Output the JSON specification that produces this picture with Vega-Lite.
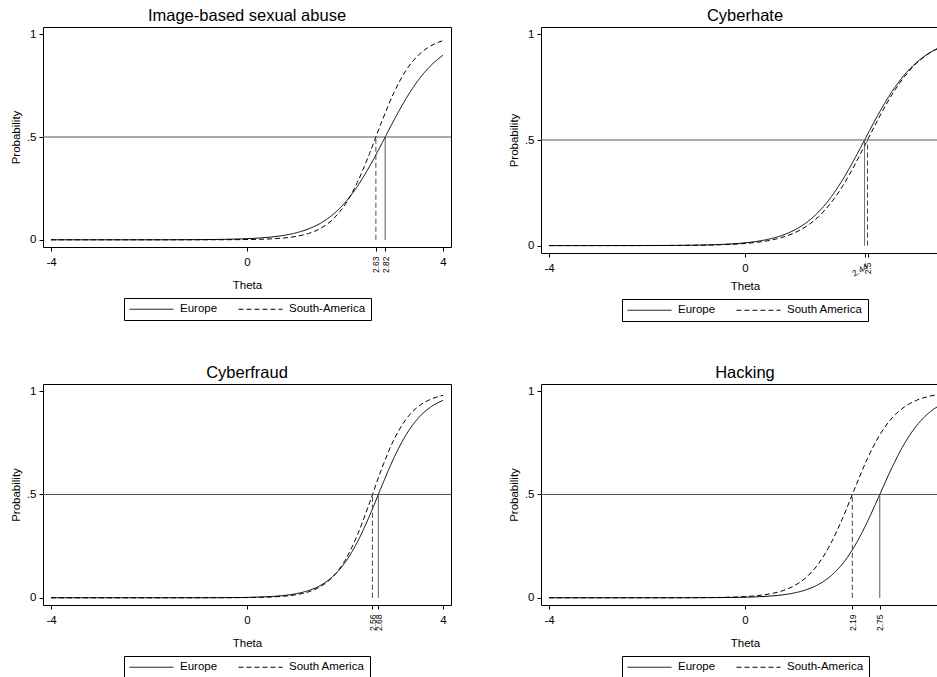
{
  "$schema": "https://vega.github.io/schema/vega-lite/v6.json",
  "background": "white",
  "padding": {"left": 9, "top": 7, "right": 0, "bottom": 0},
  "config": {
    "font": "Liberation Sans",
    "view": {"stroke": "black", "strokeWidth": 1},
    "axis": {"domain": false, "grid": false, "tickColor": "black", "tickSize": 4, "labelColor": "black", "titleColor": "black", "labelFontSize": 11.5, "titleFontSize": 11.5, "titleFontWeight": "normal", "labelPadding": 3, "labelFlush": false},
    "title": {"fontSize": 16.5, "fontWeight": "normal", "color": "black", "offset": 3},
    "legend": {"orient": "bottom", "direction": "horizontal", "strokeColor": "black", "padding": 5, "labelFontSize": 11.5, "labelColor": "black", "symbolType": "M-1,0L7,0", "symbolSize": 121, "symbolStrokeWidth": 1, "symbolStrokeColor": "black", "labelOffset": 39, "columnPadding": 18, "offset": 6, "layout": {"bottom": {"anchor": "middle"}}}
  },
  "datasets": {
    "half": [{"prob": 0.5}],
    "cuts": [
      {"panel": "Image-based sexual abuse", "region": "Europe", "b": 2.82},
      {"panel": "Image-based sexual abuse", "region": "South-America", "b": 2.63},
      {"panel": "Cyberhate", "region": "Europe", "b": 2.44},
      {"panel": "Cyberhate", "region": "South America", "b": 2.5},
      {"panel": "Cyberfraud", "region": "Europe", "b": 2.68},
      {"panel": "Cyberfraud", "region": "South America", "b": 2.56},
      {"panel": "Hacking", "region": "Europe", "b": 2.75},
      {"panel": "Hacking", "region": "South-America", "b": 2.19}
    ],
    "curves": [
      {"panel": "Image-based sexual abuse", "region": "Europe", "theta": -4, "prob": 0},
      {"panel": "Image-based sexual abuse", "region": "Europe", "theta": -3, "prob": 0},
      {"panel": "Image-based sexual abuse", "region": "Europe", "theta": -2, "prob": 0.0001},
      {"panel": "Image-based sexual abuse", "region": "Europe", "theta": -1, "prob": 0.0009},
      {"panel": "Image-based sexual abuse", "region": "Europe", "theta": -0.5, "prob": 0.0022},
      {"panel": "Image-based sexual abuse", "region": "Europe", "theta": 0, "prob": 0.0055},
      {"panel": "Image-based sexual abuse", "region": "Europe", "theta": 0.25, "prob": 0.0087},
      {"panel": "Image-based sexual abuse", "region": "Europe", "theta": 0.5, "prob": 0.0137},
      {"panel": "Image-based sexual abuse", "region": "Europe", "theta": 0.75, "prob": 0.0216},
      {"panel": "Image-based sexual abuse", "region": "Europe", "theta": 1, "prob": 0.0338},
      {"panel": "Image-based sexual abuse", "region": "Europe", "theta": 1.25, "prob": 0.0525},
      {"panel": "Image-based sexual abuse", "region": "Europe", "theta": 1.5, "prob": 0.0807},
      {"panel": "Image-based sexual abuse", "region": "Europe", "theta": 1.75, "prob": 0.1222},
      {"panel": "Image-based sexual abuse", "region": "Europe", "theta": 2, "prob": 0.1808},
      {"panel": "Image-based sexual abuse", "region": "Europe", "theta": 2.25, "prob": 0.2591},
      {"panel": "Image-based sexual abuse", "region": "Europe", "theta": 2.5, "prob": 0.3567},
      {"panel": "Image-based sexual abuse", "region": "Europe", "theta": 2.75, "prob": 0.4678},
      {"panel": "Image-based sexual abuse", "region": "Europe", "theta": 3, "prob": 0.5822},
      {"panel": "Image-based sexual abuse", "region": "Europe", "theta": 3.25, "prob": 0.6883},
      {"panel": "Image-based sexual abuse", "region": "Europe", "theta": 3.5, "prob": 0.7778},
      {"panel": "Image-based sexual abuse", "region": "Europe", "theta": 3.75, "prob": 0.8473},
      {"panel": "Image-based sexual abuse", "region": "Europe", "theta": 4, "prob": 0.898},
      {"panel": "Image-based sexual abuse", "region": "South-America", "theta": -4, "prob": 0},
      {"panel": "Image-based sexual abuse", "region": "South-America", "theta": -3, "prob": 0},
      {"panel": "Image-based sexual abuse", "region": "South-America", "theta": -2, "prob": 0},
      {"panel": "Image-based sexual abuse", "region": "South-America", "theta": -1, "prob": 0.0001},
      {"panel": "Image-based sexual abuse", "region": "South-America", "theta": -0.5, "prob": 0.0004},
      {"panel": "Image-based sexual abuse", "region": "South-America", "theta": 0, "prob": 0.0014},
      {"panel": "Image-based sexual abuse", "region": "South-America", "theta": 0.25, "prob": 0.0025},
      {"panel": "Image-based sexual abuse", "region": "South-America", "theta": 0.5, "prob": 0.0047},
      {"panel": "Image-based sexual abuse", "region": "South-America", "theta": 0.75, "prob": 0.0088},
      {"panel": "Image-based sexual abuse", "region": "South-America", "theta": 1, "prob": 0.0164},
      {"panel": "Image-based sexual abuse", "region": "South-America", "theta": 1.25, "prob": 0.0304},
      {"panel": "Image-based sexual abuse", "region": "South-America", "theta": 1.5, "prob": 0.0554},
      {"panel": "Image-based sexual abuse", "region": "South-America", "theta": 1.75, "prob": 0.0989},
      {"panel": "Image-based sexual abuse", "region": "South-America", "theta": 2, "prob": 0.1706},
      {"panel": "Image-based sexual abuse", "region": "South-America", "theta": 2.25, "prob": 0.2781},
      {"panel": "Image-based sexual abuse", "region": "South-America", "theta": 2.5, "prob": 0.4193},
      {"panel": "Image-based sexual abuse", "region": "South-America", "theta": 2.75, "prob": 0.5747},
      {"panel": "Image-based sexual abuse", "region": "South-America", "theta": 3, "prob": 0.7168},
      {"panel": "Image-based sexual abuse", "region": "South-America", "theta": 3.25, "prob": 0.8258},
      {"panel": "Image-based sexual abuse", "region": "South-America", "theta": 3.5, "prob": 0.8988},
      {"panel": "Image-based sexual abuse", "region": "South-America", "theta": 3.75, "prob": 0.9433},
      {"panel": "Image-based sexual abuse", "region": "South-America", "theta": 4, "prob": 0.9689},
      {"panel": "Cyberhate", "region": "Europe", "theta": -4, "prob": 0},
      {"panel": "Cyberhate", "region": "Europe", "theta": -3, "prob": 0.0001},
      {"panel": "Cyberhate", "region": "Europe", "theta": -2, "prob": 0.0004},
      {"panel": "Cyberhate", "region": "Europe", "theta": -1, "prob": 0.0023},
      {"panel": "Cyberhate", "region": "Europe", "theta": -0.5, "prob": 0.0055},
      {"panel": "Cyberhate", "region": "Europe", "theta": 0, "prob": 0.0131},
      {"panel": "Cyberhate", "region": "Europe", "theta": 0.25, "prob": 0.0203},
      {"panel": "Cyberhate", "region": "Europe", "theta": 0.5, "prob": 0.0313},
      {"panel": "Cyberhate", "region": "Europe", "theta": 0.75, "prob": 0.0478},
      {"panel": "Cyberhate", "region": "Europe", "theta": 1, "prob": 0.0725},
      {"panel": "Cyberhate", "region": "Europe", "theta": 1.25, "prob": 0.1085},
      {"panel": "Cyberhate", "region": "Europe", "theta": 1.5, "prob": 0.1592},
      {"panel": "Cyberhate", "region": "Europe", "theta": 1.75, "prob": 0.2277},
      {"panel": "Cyberhate", "region": "Europe", "theta": 2, "prob": 0.3146},
      {"panel": "Cyberhate", "region": "Europe", "theta": 2.25, "prob": 0.4167},
      {"panel": "Cyberhate", "region": "Europe", "theta": 2.5, "prob": 0.5265},
      {"panel": "Cyberhate", "region": "Europe", "theta": 2.75, "prob": 0.6339},
      {"panel": "Cyberhate", "region": "Europe", "theta": 3, "prob": 0.7293},
      {"panel": "Cyberhate", "region": "Europe", "theta": 3.25, "prob": 0.8075},
      {"panel": "Cyberhate", "region": "Europe", "theta": 3.5, "prob": 0.8671},
      {"panel": "Cyberhate", "region": "Europe", "theta": 3.75, "prob": 0.9104},
      {"panel": "Cyberhate", "region": "Europe", "theta": 4, "prob": 0.9406},
      {"panel": "Cyberhate", "region": "South America", "theta": -4, "prob": 0},
      {"panel": "Cyberhate", "region": "South America", "theta": -3, "prob": 0},
      {"panel": "Cyberhate", "region": "South America", "theta": -2, "prob": 0.0003},
      {"panel": "Cyberhate", "region": "South America", "theta": -1, "prob": 0.0016},
      {"panel": "Cyberhate", "region": "South America", "theta": -0.5, "prob": 0.004},
      {"panel": "Cyberhate", "region": "South America", "theta": 0, "prob": 0.01},
      {"panel": "Cyberhate", "region": "South America", "theta": 0.25, "prob": 0.0157},
      {"panel": "Cyberhate", "region": "South America", "theta": 0.5, "prob": 0.0246},
      {"panel": "Cyberhate", "region": "South America", "theta": 0.75, "prob": 0.0384},
      {"panel": "Cyberhate", "region": "South America", "theta": 1, "prob": 0.0595},
      {"panel": "Cyberhate", "region": "South America", "theta": 1.25, "prob": 0.0911},
      {"panel": "Cyberhate", "region": "South America", "theta": 1.5, "prob": 0.137},
      {"panel": "Cyberhate", "region": "South America", "theta": 1.75, "prob": 0.201},
      {"panel": "Cyberhate", "region": "South America", "theta": 2, "prob": 0.285},
      {"panel": "Cyberhate", "region": "South America", "theta": 2.25, "prob": 0.387},
      {"panel": "Cyberhate", "region": "South America", "theta": 2.5, "prob": 0.5},
      {"panel": "Cyberhate", "region": "South America", "theta": 2.75, "prob": 0.613},
      {"panel": "Cyberhate", "region": "South America", "theta": 3, "prob": 0.715},
      {"panel": "Cyberhate", "region": "South America", "theta": 3.25, "prob": 0.799},
      {"panel": "Cyberhate", "region": "South America", "theta": 3.5, "prob": 0.863},
      {"panel": "Cyberhate", "region": "South America", "theta": 3.75, "prob": 0.9089},
      {"panel": "Cyberhate", "region": "South America", "theta": 4, "prob": 0.9405},
      {"panel": "Cyberfraud", "region": "Europe", "theta": -4, "prob": 0},
      {"panel": "Cyberfraud", "region": "Europe", "theta": -3, "prob": 0},
      {"panel": "Cyberfraud", "region": "Europe", "theta": -2, "prob": 0},
      {"panel": "Cyberfraud", "region": "Europe", "theta": -1, "prob": 0.0002},
      {"panel": "Cyberfraud", "region": "Europe", "theta": -0.5, "prob": 0.0006},
      {"panel": "Cyberfraud", "region": "Europe", "theta": 0, "prob": 0.0019},
      {"panel": "Cyberfraud", "region": "Europe", "theta": 0.25, "prob": 0.0035},
      {"panel": "Cyberfraud", "region": "Europe", "theta": 0.5, "prob": 0.0062},
      {"panel": "Cyberfraud", "region": "Europe", "theta": 0.75, "prob": 0.011},
      {"panel": "Cyberfraud", "region": "Europe", "theta": 1, "prob": 0.0196},
      {"panel": "Cyberfraud", "region": "Europe", "theta": 1.25, "prob": 0.0345},
      {"panel": "Cyberfraud", "region": "Europe", "theta": 1.5, "prob": 0.0601},
      {"panel": "Cyberfraud", "region": "Europe", "theta": 1.75, "prob": 0.1028},
      {"panel": "Cyberfraud", "region": "Europe", "theta": 2, "prob": 0.1702},
      {"panel": "Cyberfraud", "region": "Europe", "theta": 2.25, "prob": 0.2686},
      {"panel": "Cyberfraud", "region": "Europe", "theta": 2.5, "prob": 0.3967},
      {"panel": "Cyberfraud", "region": "Europe", "theta": 2.75, "prob": 0.5407},
      {"panel": "Cyberfraud", "region": "Europe", "theta": 3, "prob": 0.6783},
      {"panel": "Cyberfraud", "region": "Europe", "theta": 3.25, "prob": 0.7905},
      {"panel": "Cyberfraud", "region": "Europe", "theta": 3.5, "prob": 0.8712},
      {"panel": "Cyberfraud", "region": "Europe", "theta": 3.75, "prob": 0.9237},
      {"panel": "Cyberfraud", "region": "Europe", "theta": 4, "prob": 0.9559},
      {"panel": "Cyberfraud", "region": "South America", "theta": -4, "prob": 0},
      {"panel": "Cyberfraud", "region": "South America", "theta": -3, "prob": 0},
      {"panel": "Cyberfraud", "region": "South America", "theta": -2, "prob": 0},
      {"panel": "Cyberfraud", "region": "South America", "theta": -1, "prob": 0.0001},
      {"panel": "Cyberfraud", "region": "South America", "theta": -0.5, "prob": 0.0003},
      {"panel": "Cyberfraud", "region": "South America", "theta": 0, "prob": 0.001},
      {"panel": "Cyberfraud", "region": "South America", "theta": 0.25, "prob": 0.002},
      {"panel": "Cyberfraud", "region": "South America", "theta": 0.5, "prob": 0.0038},
      {"panel": "Cyberfraud", "region": "South America", "theta": 0.75, "prob": 0.0075},
      {"panel": "Cyberfraud", "region": "South America", "theta": 1, "prob": 0.0146},
      {"panel": "Cyberfraud", "region": "South America", "theta": 1.25, "prob": 0.0283},
      {"panel": "Cyberfraud", "region": "South America", "theta": 1.5, "prob": 0.0541},
      {"panel": "Cyberfraud", "region": "South America", "theta": 1.75, "prob": 0.1009},
      {"panel": "Cyberfraud", "region": "South America", "theta": 2, "prob": 0.1806},
      {"panel": "Cyberfraud", "region": "South America", "theta": 2.25, "prob": 0.3022},
      {"panel": "Cyberfraud", "region": "South America", "theta": 2.5, "prob": 0.4596},
      {"panel": "Cyberfraud", "region": "South America", "theta": 2.75, "prob": 0.6255},
      {"panel": "Cyberfraud", "region": "South America", "theta": 3, "prob": 0.7664},
      {"panel": "Cyberfraud", "region": "South America", "theta": 3.25, "prob": 0.8657},
      {"panel": "Cyberfraud", "region": "South America", "theta": 3.5, "prob": 0.9268},
      {"panel": "Cyberfraud", "region": "South America", "theta": 3.75, "prob": 0.9613},
      {"panel": "Cyberfraud", "region": "South America", "theta": 4, "prob": 0.98},
      {"panel": "Hacking", "region": "Europe", "theta": -4, "prob": 0},
      {"panel": "Hacking", "region": "Europe", "theta": -3, "prob": 0},
      {"panel": "Hacking", "region": "Europe", "theta": -2, "prob": 0},
      {"panel": "Hacking", "region": "Europe", "theta": -1, "prob": 0.0003},
      {"panel": "Hacking", "region": "Europe", "theta": -0.5, "prob": 0.001},
      {"panel": "Hacking", "region": "Europe", "theta": 0, "prob": 0.0028},
      {"panel": "Hacking", "region": "Europe", "theta": 0.25, "prob": 0.0047},
      {"panel": "Hacking", "region": "Europe", "theta": 0.5, "prob": 0.008},
      {"panel": "Hacking", "region": "Europe", "theta": 0.75, "prob": 0.0137},
      {"panel": "Hacking", "region": "Europe", "theta": 1, "prob": 0.0231},
      {"panel": "Hacking", "region": "Europe", "theta": 1.25, "prob": 0.0388},
      {"panel": "Hacking", "region": "Europe", "theta": 1.5, "prob": 0.0645},
      {"panel": "Hacking", "region": "Europe", "theta": 1.75, "prob": 0.1053},
      {"panel": "Hacking", "region": "Europe", "theta": 2, "prob": 0.1673},
      {"panel": "Hacking", "region": "Europe", "theta": 2.25, "prob": 0.2554},
      {"panel": "Hacking", "region": "Europe", "theta": 2.5, "prob": 0.3694},
      {"panel": "Hacking", "region": "Europe", "theta": 2.75, "prob": 0.5},
      {"panel": "Hacking", "region": "Europe", "theta": 3, "prob": 0.6306},
      {"panel": "Hacking", "region": "Europe", "theta": 3.25, "prob": 0.7446},
      {"panel": "Hacking", "region": "Europe", "theta": 3.5, "prob": 0.8327},
      {"panel": "Hacking", "region": "Europe", "theta": 3.75, "prob": 0.8947},
      {"panel": "Hacking", "region": "Europe", "theta": 4, "prob": 0.9355},
      {"panel": "Hacking", "region": "South-America", "theta": -4, "prob": 0},
      {"panel": "Hacking", "region": "South-America", "theta": -3, "prob": 0},
      {"panel": "Hacking", "region": "South-America", "theta": -2, "prob": 0.0001},
      {"panel": "Hacking", "region": "South-America", "theta": -1, "prob": 0.0006},
      {"panel": "Hacking", "region": "South-America", "theta": -0.5, "prob": 0.0018},
      {"panel": "Hacking", "region": "South-America", "theta": 0, "prob": 0.0058},
      {"panel": "Hacking", "region": "South-America", "theta": 0.25, "prob": 0.0104},
      {"panel": "Hacking", "region": "South-America", "theta": 0.5, "prob": 0.0185},
      {"panel": "Hacking", "region": "South-America", "theta": 0.75, "prob": 0.0328},
      {"panel": "Hacking", "region": "South-America", "theta": 1, "prob": 0.0575},
      {"panel": "Hacking", "region": "South-America", "theta": 1.25, "prob": 0.0989},
      {"panel": "Hacking", "region": "South-America", "theta": 1.5, "prob": 0.1649},
      {"panel": "Hacking", "region": "South-America", "theta": 1.75, "prob": 0.2623},
      {"panel": "Hacking", "region": "South-America", "theta": 2, "prob": 0.39},
      {"panel": "Hacking", "region": "South-America", "theta": 2.25, "prob": 0.5352},
      {"panel": "Hacking", "region": "South-America", "theta": 2.5, "prob": 0.6746},
      {"panel": "Hacking", "region": "South-America", "theta": 2.75, "prob": 0.7885},
      {"panel": "Hacking", "region": "South-America", "theta": 3, "prob": 0.8703},
      {"panel": "Hacking", "region": "South-America", "theta": 3.25, "prob": 0.9236},
      {"panel": "Hacking", "region": "South-America", "theta": 3.5, "prob": 0.956},
      {"panel": "Hacking", "region": "South-America", "theta": 3.75, "prob": 0.9751},
      {"panel": "Hacking", "region": "South-America", "theta": 4, "prob": 0.986}
    ]
  },
  "columns": 2,
  "spacing": {"row": 131, "column": 90},
  "bounds": "flush",
  "resolve": {"scale": {"strokeDash": "independent"}, "legend": {"strokeDash": "independent"}},
  "concat": [
    {
      "title": "Image-based sexual abuse",
      "width": 408, "height": 220,
      "resolve": {"axis": {"x": "independent"}},
      "layer": [
        {
          "data": {"name": "curves"},
          "transform": [{"filter": "datum.panel === 'Image-based sexual abuse'"}],
          "mark": {"type": "line", "interpolate": "monotone", "color": "black", "strokeWidth": 1},
          "encoding": {
            "x": {"field": "theta", "type": "quantitative", "scale": {"domain": [-4.163, 4.163], "nice": false, "zero": false}, "axis": {"orient": "bottom", "values": [-4, 0, 4], "title": null, "labelPadding": 5, "labelExpr": "datum.value < 0 ? '-4' : datum.value > 0 ? '4' : '0'"}},
            "y": {"field": "prob", "type": "quantitative", "scale": {"domain": [-0.035, 1.035], "nice": false, "zero": false}, "axis": {"values": [0, 0.5, 1], "title": "Probability", "titlePadding": 5, "labelExpr": "datum.value == 0.5 ? '.5' : datum.value == 1 ? '1' : '0'"}},
            "strokeDash": {"field": "region", "type": "nominal", "scale": {"domain": ["Europe", "South-America"], "range": [[1, 0], [5, 3]]}, "legend": {"title": null, "symbolType": "M-1,0L7,0", "symbolSize": 121, "labelOffset": 39}}
          }
        },
        {
          "data": {"name": "half"},
          "mark": {"type": "rule", "color": "#555", "strokeWidth": 1},
          "encoding": {"y": {"datum": 0.5}}
        },
        {
          "data": {"name": "cuts"},
          "transform": [{"filter": "datum.panel === 'Image-based sexual abuse'"}],
          "mark": {"type": "rule", "color": "#444", "strokeWidth": 1},
          "encoding": {
            "x": {"field": "b", "type": "quantitative", "scale": {"domain": [-4.163, 4.163], "nice": false, "zero": false}, "axis": {"orient": "bottom", "values": [2.63, 2.82], "format": ".3~g", "labelAngle": -90, "labelFontSize": 8.5, "labelOverlap": false, "labelPadding": 5, "title": "Theta", "titlePadding": 7}},
            "y": {"datum": 0},
            "y2": {"datum": 0.5},
            "strokeDash": {"field": "region", "type": "nominal"}
          }
        }
      ]
    },
    {
      "title": "Cyberhate",
      "width": 408, "height": 226,
      "resolve": {"axis": {"x": "independent"}},
      "layer": [
        {
          "data": {"name": "curves"},
          "transform": [{"filter": "datum.panel === 'Cyberhate'"}],
          "mark": {"type": "line", "interpolate": "monotone", "color": "black", "strokeWidth": 1},
          "encoding": {
            "x": {"field": "theta", "type": "quantitative", "scale": {"domain": [-4.163, 4.163], "nice": false, "zero": false}, "axis": {"orient": "bottom", "values": [-4, 0], "title": null, "labelPadding": 5, "labelExpr": "datum.value < 0 ? '-4' : datum.value > 0 ? '4' : '0'"}},
            "y": {"field": "prob", "type": "quantitative", "scale": {"domain": [-0.035, 1.035], "nice": false, "zero": false}, "axis": {"values": [0, 0.5, 1], "title": "Probability", "titlePadding": 5, "labelExpr": "datum.value == 0.5 ? '.5' : datum.value == 1 ? '1' : '0'"}},
            "strokeDash": {"field": "region", "type": "nominal", "scale": {"domain": ["Europe", "South America"], "range": [[1, 0], [5, 3]]}, "legend": {"title": null, "symbolType": "M-1,0L7,0", "symbolSize": 121, "labelOffset": 39}}
          }
        },
        {
          "data": {"name": "half"},
          "mark": {"type": "rule", "color": "#555", "strokeWidth": 1},
          "encoding": {"y": {"datum": 0.5}}
        },
        {
          "data": {"name": "cuts"},
          "transform": [{"filter": "datum.panel === 'Cyberhate' && datum.region === 'Europe'"}],
          "mark": {"type": "rule", "color": "#444", "strokeWidth": 1},
          "encoding": {
            "x": {"field": "b", "type": "quantitative", "scale": {"domain": [-4.163, 4.163], "nice": false, "zero": false}, "axis": {"orient": "bottom", "values": [2.44], "format": ".3~g", "labelAngle": -30, "labelFontSize": 8.5, "labelOverlap": false, "labelPadding": 5, "title": null}},
            "y": {"datum": 0},
            "y2": {"datum": 0.5},
            "strokeDash": {"field": "region", "type": "nominal"}
          }
        },
        {
          "data": {"name": "cuts"},
          "transform": [{"filter": "datum.panel === 'Cyberhate' && datum.region === 'South America'"}],
          "mark": {"type": "rule", "color": "#444", "strokeWidth": 1},
          "encoding": {
            "x": {"field": "b", "type": "quantitative", "scale": {"domain": [-4.163, 4.163], "nice": false, "zero": false}, "axis": {"orient": "bottom", "values": [2.5], "format": ".3~g", "labelAngle": -90, "labelFontSize": 8.5, "labelOverlap": false, "labelPadding": 5, "title": "Theta", "titlePadding": 7}},
            "y": {"datum": 0},
            "y2": {"datum": 0.5},
            "strokeDash": {"field": "region", "type": "nominal"}
          }
        }
      ]
    },
    {
      "title": "Cyberfraud",
      "width": 408, "height": 221,
      "resolve": {"axis": {"x": "independent"}},
      "layer": [
        {
          "data": {"name": "curves"},
          "transform": [{"filter": "datum.panel === 'Cyberfraud'"}],
          "mark": {"type": "line", "interpolate": "monotone", "color": "black", "strokeWidth": 1},
          "encoding": {
            "x": {"field": "theta", "type": "quantitative", "scale": {"domain": [-4.163, 4.163], "nice": false, "zero": false}, "axis": {"orient": "bottom", "values": [-4, 0, 4], "title": null, "labelPadding": 5, "labelExpr": "datum.value < 0 ? '-4' : datum.value > 0 ? '4' : '0'"}},
            "y": {"field": "prob", "type": "quantitative", "scale": {"domain": [-0.035, 1.035], "nice": false, "zero": false}, "axis": {"values": [0, 0.5, 1], "title": "Probability", "titlePadding": 5, "labelExpr": "datum.value == 0.5 ? '.5' : datum.value == 1 ? '1' : '0'"}},
            "strokeDash": {"field": "region", "type": "nominal", "scale": {"domain": ["Europe", "South America"], "range": [[1, 0], [5, 3]]}, "legend": {"title": null, "symbolType": "M-1,0L7,0", "symbolSize": 121, "labelOffset": 39}}
          }
        },
        {
          "data": {"name": "half"},
          "mark": {"type": "rule", "color": "#555", "strokeWidth": 1},
          "encoding": {"y": {"datum": 0.5}}
        },
        {
          "data": {"name": "cuts"},
          "transform": [{"filter": "datum.panel === 'Cyberfraud'"}],
          "mark": {"type": "rule", "color": "#444", "strokeWidth": 1},
          "encoding": {
            "x": {"field": "b", "type": "quantitative", "scale": {"domain": [-4.163, 4.163], "nice": false, "zero": false}, "axis": {"orient": "bottom", "values": [2.56, 2.68], "format": ".3~g", "labelAngle": -90, "labelFontSize": 8.5, "labelOverlap": false, "labelPadding": 5, "title": "Theta", "titlePadding": 7}},
            "y": {"datum": 0},
            "y2": {"datum": 0.5},
            "strokeDash": {"field": "region", "type": "nominal"}
          }
        }
      ]
    },
    {
      "title": "Hacking",
      "width": 408, "height": 221,
      "resolve": {"axis": {"x": "independent"}},
      "layer": [
        {
          "data": {"name": "curves"},
          "transform": [{"filter": "datum.panel === 'Hacking'"}],
          "mark": {"type": "line", "interpolate": "monotone", "color": "black", "strokeWidth": 1},
          "encoding": {
            "x": {"field": "theta", "type": "quantitative", "scale": {"domain": [-4.163, 4.163], "nice": false, "zero": false}, "axis": {"orient": "bottom", "values": [-4, 0], "title": null, "labelPadding": 5, "labelExpr": "datum.value < 0 ? '-4' : datum.value > 0 ? '4' : '0'"}},
            "y": {"field": "prob", "type": "quantitative", "scale": {"domain": [-0.035, 1.035], "nice": false, "zero": false}, "axis": {"values": [0, 0.5, 1], "title": "Probability", "titlePadding": 5, "labelExpr": "datum.value == 0.5 ? '.5' : datum.value == 1 ? '1' : '0'"}},
            "strokeDash": {"field": "region", "type": "nominal", "scale": {"domain": ["Europe", "South-America"], "range": [[1, 0], [5, 3]]}, "legend": {"title": null, "symbolType": "M-1,0L7,0", "symbolSize": 121, "labelOffset": 39}}
          }
        },
        {
          "data": {"name": "half"},
          "mark": {"type": "rule", "color": "#555", "strokeWidth": 1},
          "encoding": {"y": {"datum": 0.5}}
        },
        {
          "data": {"name": "cuts"},
          "transform": [{"filter": "datum.panel === 'Hacking'"}],
          "mark": {"type": "rule", "color": "#444", "strokeWidth": 1},
          "encoding": {
            "x": {"field": "b", "type": "quantitative", "scale": {"domain": [-4.163, 4.163], "nice": false, "zero": false}, "axis": {"orient": "bottom", "values": [2.19, 2.75], "format": ".3~g", "labelAngle": -90, "labelFontSize": 8.5, "labelOverlap": false, "labelPadding": 5, "title": "Theta", "titlePadding": 7}},
            "y": {"datum": 0},
            "y2": {"datum": 0.5},
            "strokeDash": {"field": "region", "type": "nominal"}
          }
        }
      ]
    }
  ]
}
